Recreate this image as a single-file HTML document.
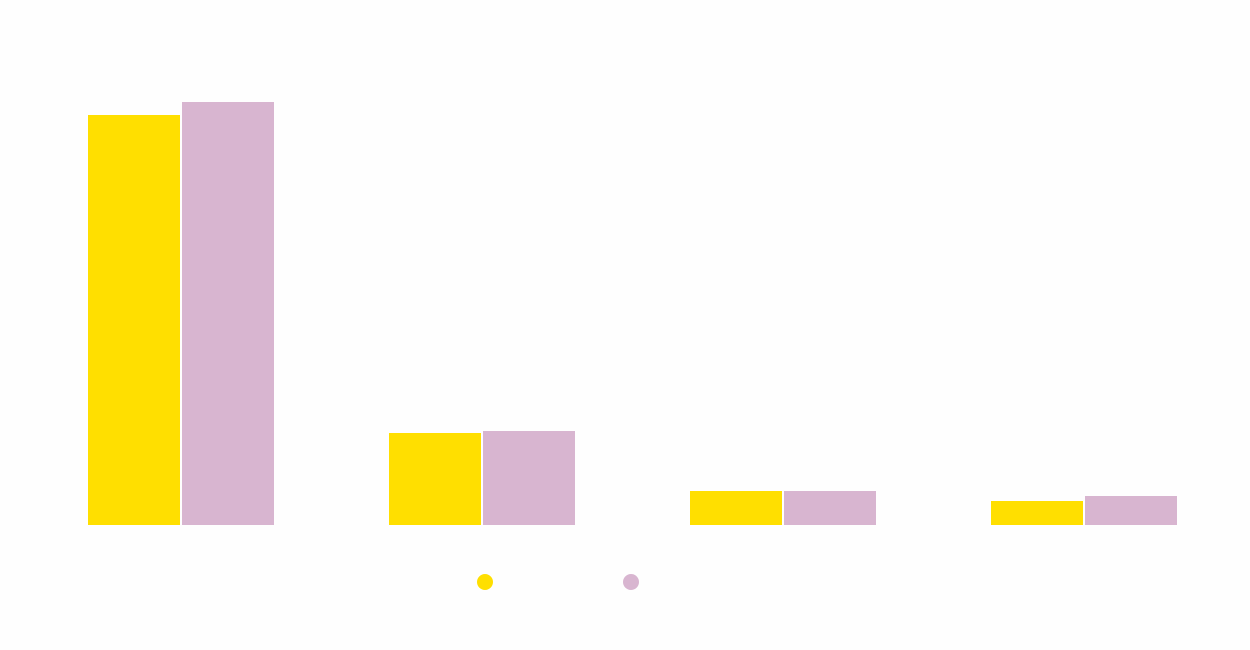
<!DOCTYPE html>
<html><head><meta charset="utf-8"><style>
html,body{margin:0;padding:0;background:#fefefe;}
svg{display:block;}
</style></head><body>
<svg width="1250" height="650" viewBox="0 0 1250 650" xmlns="http://www.w3.org/2000/svg">
<rect width="1250" height="650" fill="#fefefe"/>
<g fill="#FFDF00">
<rect x="88" y="115" width="92" height="410"/>
<rect x="389" y="433" width="92" height="92"/>
<rect x="690" y="491" width="92" height="34"/>
<rect x="991" y="501" width="92" height="24"/>
</g>
<g fill="#D8B5D0">
<rect x="182" y="102" width="92" height="423"/>
<rect x="483" y="431" width="92" height="94"/>
<rect x="784" y="491" width="92" height="34"/>
<rect x="1085" y="496" width="92" height="29"/>
</g>
<circle cx="485" cy="582" r="8" fill="#FFDF00"/>
<circle cx="631" cy="582" r="8" fill="#D8B5D0"/>
</svg>
</body></html>
